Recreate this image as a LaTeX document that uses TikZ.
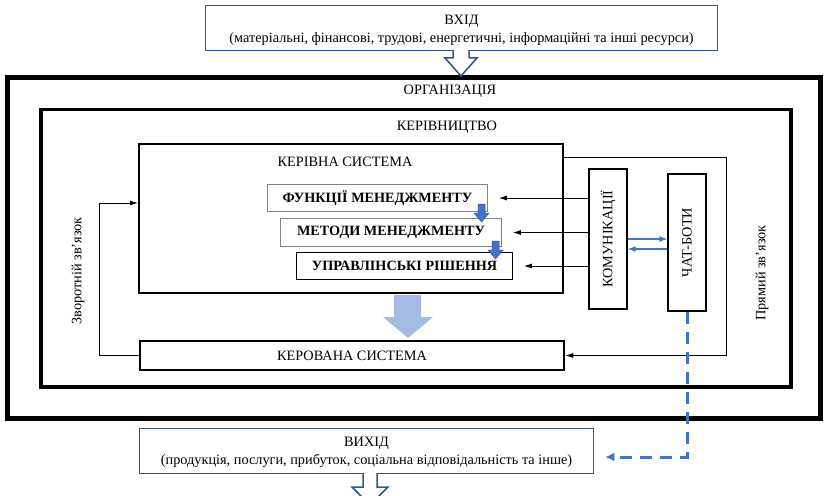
\documentclass[tikz,border=0pt]{standalone}
\usepackage{fontspec}
\setmainfont{Liberation Serif}
\usetikzlibrary{arrows.meta}
\definecolor{bxblue}{RGB}{47,85,151}
\definecolor{blkfill}{RGB}{68,114,196}
\definecolor{blkdraw}{RGB}{47,82,143}
\definecolor{lightarr}{RGB}{164,188,228}
\definecolor{fgray}{RGB}{130,130,130}
\begin{document}
\begin{tikzpicture}[x=1pt,y=-1pt,
  txt/.style={font=\fontsize{14.3}{18}\selectfont, inner sep=0pt},
  boldtxt/.style={font=\fontsize{14.2}{16}\selectfont\bfseries, inner sep=0pt},
  box/.style={draw, inner sep=0pt},
  bluebox/.style={draw=bxblue, line width=1.5pt, inner sep=0pt, fill=white},
  fbox/.style={draw=fgray, line width=0.8pt, inner sep=0pt, fill=white},
  conn/.style={line width=0.9pt, -{Latex[length=8pt,width=5pt]}},
  bconn/.style={draw=blkfill, line width=1.2pt, -{Latex[length=8pt,width=6pt]}},
  dashline/.style={draw=blkfill, line width=3pt, dash pattern=on 12pt off 8pt, -{Latex[length=9pt,width=9pt]}},
  hollow/.style={fill=white, draw=bxblue, line width=1.5pt, line join=miter},
  blockdown/.pic={\filldraw[fill=blkfill, draw=blkdraw, line width=0.5pt]
     (-3.5,0) -- (3.5,0) -- (3.5,9) -- (7.5,9) -- (0,18) -- (-7.5,9) -- (-3.5,9) -- cycle;}
]
\useasboundingbox (0,0) rectangle (824,495);
\clip (0,0) rectangle (824,495);

% containers
\node[box, line width=5pt, minimum width=812.5pt, minimum height=341pt] (org) at (413.75,248) {};
\node[txt] (orgt) at (450,91) {ОРГАНІЗАЦІЯ};
\node[box, line width=3.5pt, minimum width=750pt, minimum height=277.5pt] (mgmt) at (416,248.25) {};
\node[txt] (mgmtt) at (447,127) {КЕРІВНИЦТВО};

% input box
\node[bluebox, minimum width=512pt, minimum height=45pt] (vhid) at (461.5,28) {};
\node[txt, align=center] (vhidt) at (461.5,30.5) {ВХІД\\(матеріальні, фінансові, трудові, енергетичні, інформаційні та інші ресурси)};
\path[hollow] (453,50) -- (453,58) -- (445,58) -- (461,76) -- (477,58) -- (469,58) -- (469,50);

% managing system
\node[box, line width=2pt, minimum width=424pt, minimum height=149pt] (ks) at (351,218.5) {};
\node[txt] (kst) at (345,162) {КЕРІВНА СИСТЕМА};

\node[fbox, minimum width=220pt, minimum height=27pt] (f1) at (377.5,198) {};
\node[boldtxt] at (f1) {ФУНКЦІЇ МЕНЕДЖМЕНТУ};
\node[fbox, minimum width=221pt, minimum height=28pt] (f2) at (391,232.5) {};
\node[boldtxt] at (f2) {МЕТОДИ МЕНЕДЖМЕНТУ};
\node[box, line width=0.8pt, fill=white, minimum width=216pt, minimum height=27pt] (f3) at (404.5,266) {};
\node[boldtxt] at (f3) {УПРАВЛІНСЬКІ РІШЕННЯ};
\pic at (481.5,204) {blockdown};
\pic at (495.5,241) {blockdown};

% managed system
\fill[lightarr] (394,295) -- (421,295) -- (421,317) -- (433,317) -- (408,338) -- (383,317) -- (394,317) -- cycle;
\node[box, line width=2.5pt, minimum width=424pt, minimum height=29pt] (kers) at (352,355.5) {};
\node[txt] (kerst) at (kers) {КЕРОВАНА СИСТЕМА};

% communications and chat-bots
\node[box, line width=1.2pt, minimum width=38pt, minimum height=140pt] (kom) at (608,239) {};
\node[txt, rotate=90] (komt) at (kom) {КОМУНІКАЦІЇ};
\node[box, line width=1.2pt, minimum width=38pt, minimum height=137pt] (chat) at (687,242.5) {};
\node[txt, rotate=90] (chatt) at (chat) {ЧАТ-БОТИ};

\draw[conn] (kom.west |- f1.east) -- ([xshift=11pt]f1.east);
\draw[conn] (kom.west |- f2.east) -- ([xshift=11pt]f2.east);
\draw[conn] (kom.west |- f3.east) -- ([xshift=11pt]f3.east);

\coordinate (kb) at ([yshift=-10pt]kom.east);
\draw[bconn] (kom.east) -- (kom.east -| chat.west);
\draw[bconn] (kb -| chat.west) -- (kb);

% feedback and direct links
\coordinate (zb) at ([yshift=-60pt]ks.north west);
\draw[conn] (kers.west) -- ++(-39,0) |- (zb);
\node[txt, rotate=90] (zbt) at (78,271) {Зворотній зв’язок};
\coordinate (pz) at ([yshift=-14pt]ks.north east);
\draw[conn] (pz) -- ++(162,0) |- (kers.east);
\node[txt, rotate=90] (pzt) at (762,273) {Прямий зв’язок};

% output box
\node[bluebox, minimum width=454pt, minimum height=45pt] (vyhid) at (366.5,451) {};
\node[txt, align=center] (vyhidt) at (366.5,452) {ВИХІД\\(продукція, послуги, прибуток, соціальна відповідальність та інше)};
\path[hollow] (363,473) -- (363,487) -- (352,487) -- (370,505) -- (388,487) -- (377,487) -- (377,473);

\coordinate (vo) at ([xshift=11pt,yshift=-6pt]vyhid.east);
\draw[dashline] (chat.south) |- (vo);
\end{tikzpicture}
\end{document}
